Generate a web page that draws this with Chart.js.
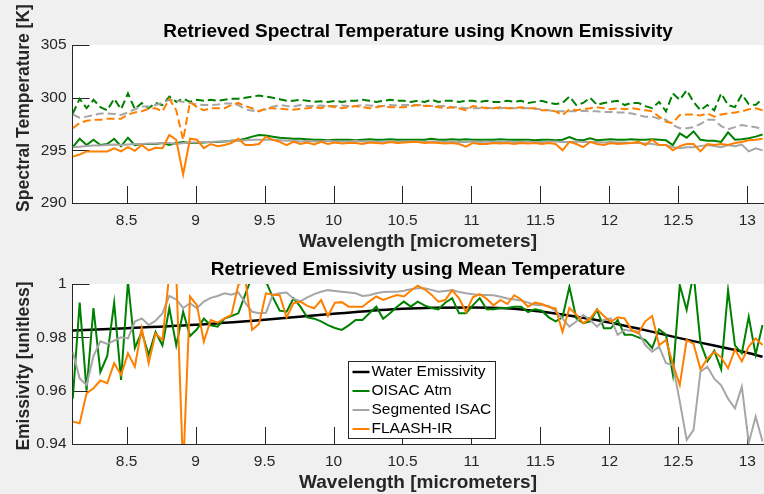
<!DOCTYPE html>
<html><head><meta charset="utf-8">
<script src="https://cdn.jsdelivr.net/npm/chart.js@4/dist/chart.umd.min.js"></script>
<style>
html,body{margin:0;padding:0;background:#f0f0f0;}
#wrap{position:relative;width:764px;height:494px;overflow:hidden;background:#f0f0f0;}
.box{position:absolute;left:0;width:764px;}
</style></head><body>
<div id="wrap">
<div class="box" style="top:0;height:255px"><canvas id="c1"></canvas></div>
<div class="box" style="top:255px;height:239px"><canvas id="c2"></canvas></div>
</div>
<script>
// ---------------- DATA ----------------
const wavelengths = [
8.11,8.16,8.21,8.26,8.31,8.36,8.41,8.46,8.51,8.56,
8.61,8.66,8.71,8.76,8.81,8.86,8.91,8.96,9.01,9.06,
9.11,9.16,9.21,9.26,9.31,9.36,9.41,9.46,9.51,9.56,
9.61,9.66,9.71,9.76,9.81,9.86,9.91,9.96,10.01,10.06,
10.11,10.16,10.21,10.26,10.31,10.36,10.41,10.46,10.51,10.56,
10.61,10.66,10.71,10.76,10.81,10.86,10.91,10.96,11.01,11.06,
11.11,11.16,11.21,11.26,11.31,11.36,11.41,11.46,11.51,11.56,
11.61,11.66,11.71,11.76,11.81,11.86,11.91,11.96,12.01,12.06,
12.11,12.16,12.21,12.26,12.31,12.36,12.41,12.46,12.51,12.56,
12.61,12.66,12.71,12.76,12.81,12.86,12.91,12.96,13.01,13.06,
13.11];

const xTicks = [8.5, 9, 9.5, 10, 10.5, 11, 11.5, 12, 12.5, 13];
const xTickLabels = ['8.5','9','9.5','10','10.5','11','11.5','12','12.5','13'];
const tempTicks = [290, 295, 300, 305];
const tempTickLabels = ['290','295','300','305'];
const emisTicks = [0.94, 0.96, 0.98, 1];
const emisTickLabels = ['0.94','0.96','0.98','1'];

// Top panel: retrieved spectral temperature [K]
const oisacTempSolid = [
295.3,296.1,295.5,296.0,295.5,295.6,296.1,295.4,296.2,295.5,
295.6,295.6,295.6,295.7,295.5,295.7,295.8,295.7,295.7,295.75,
295.8,295.8,295.85,295.9,295.95,296.1,296.3,296.45,296.4,296.3,
296.2,296.15,296.1,296.1,296.05,296.0,296.0,295.95,296.0,296.0,
296.0,295.95,296.0,296.05,296.0,296.0,296.05,296.0,296.0,296.0,
296.0,296.0,296.1,296.0,296.0,296.05,296.0,296.05,296.0,296.0,
296.0,296.0,296.05,296.0,296.0,296.0,296.0,295.95,296.0,296.0,
295.95,296.0,296.25,296.0,295.95,296.15,295.95,296.0,296.05,296.0,
296.0,296.05,296.0,296.0,296.05,296.0,295.95,295.5,296.6,296.2,
296.8,296.0,295.9,295.9,295.8,296.7,296.0,296.05,296.15,296.3,
296.5];
const segTempSolid = [
295.3,295.35,295.4,295.45,295.45,295.5,295.55,295.5,295.55,295.6,
295.6,295.65,295.65,295.7,295.7,295.6,295.7,295.75,295.75,295.8,
295.8,295.85,295.85,295.9,295.9,295.95,296.0,296.0,296.0,296.0,
295.95,295.9,295.9,295.85,295.9,295.85,295.85,295.9,295.85,295.85,
295.85,295.9,295.85,295.85,295.8,295.85,295.85,295.8,295.85,295.85,
295.85,295.8,295.85,295.85,295.8,295.85,295.8,295.8,295.85,295.8,
295.85,295.8,295.8,295.85,295.8,295.8,295.85,295.8,295.8,295.85,
295.85,295.8,295.8,295.85,295.8,295.8,295.8,295.75,295.8,295.75,
295.75,295.7,295.7,295.65,295.6,295.5,295.5,295.3,295.2,295.3,
295.3,295.4,295.5,295.4,295.3,295.5,295.4,295.55,294.9,295.2,
295.0];
const flaashTempSolid = [
294.4,294.6,294.9,294.9,294.9,294.9,295.2,294.9,295.3,294.95,
295.5,295.0,295.25,295.2,296.45,296.0,292.7,296.1,296.0,295.2,
295.6,295.4,295.5,295.7,296.1,295.5,295.5,295.6,296.3,296.0,
295.8,295.5,295.8,295.6,295.75,295.55,295.8,295.6,295.75,295.65,
295.7,295.7,295.6,295.75,295.7,295.65,295.8,295.7,295.75,295.8,
295.8,295.7,295.75,295.7,295.65,295.7,295.6,295.35,295.7,295.6,
295.6,295.7,295.65,295.7,295.6,295.7,295.65,295.7,295.6,295.7,
295.6,295.0,295.8,295.6,295.3,295.8,295.6,295.5,295.7,295.6,
295.65,295.7,295.8,295.5,296.0,295.5,295.5,295.0,295.4,295.6,
295.6,294.9,295.6,295.5,295.6,295.5,295.7,295.8,295.95,296.0,
296.1];
const oisacTempDashed = [
298.5,299.9,299.0,299.8,299.1,298.8,299.9,298.9,300.4,298.9,
299.5,299.0,299.5,299.3,300.1,299.6,299.9,299.6,299.8,299.7,
299.8,299.7,299.8,299.9,299.9,300.0,300.1,300.2,300.1,300.0,
299.85,299.7,299.7,299.8,299.7,299.6,299.65,299.6,299.7,299.6,
299.7,299.7,299.8,299.7,299.6,299.7,299.8,299.7,299.7,299.6,
299.7,299.6,299.8,299.6,299.7,299.7,299.6,299.7,299.7,299.6,
299.7,299.6,299.6,299.7,299.6,299.7,299.5,299.6,299.7,299.5,
299.4,299.5,300.1,299.3,299.5,300.0,299.3,299.5,299.6,299.7,
299.3,299.5,299.5,299.2,299.0,299.6,298.7,300.4,299.8,300.7,
299.6,298.8,299.3,298.8,300.4,299.3,299.1,300.3,299.4,299.3,
299.9];
const segTempDashed = [
298.4,298.1,298.2,298.35,298.5,298.5,298.45,298.35,298.6,298.9,
299.15,299.15,299.3,299.5,299.8,299.7,299.6,299.5,299.35,299.3,
299.3,299.35,299.45,299.45,299.3,298.9,298.75,298.75,298.9,299.15,
299.3,299.2,299.15,299.3,299.2,299.2,299.25,299.2,299.2,299.25,
299.2,299.2,299.3,299.25,299.2,299.2,299.3,299.25,299.3,299.3,
299.3,299.25,299.2,299.2,299.2,299.1,299.1,299.0,299.0,299.0,
299.05,299.0,299.0,299.05,299.0,299.0,299.0,298.95,298.9,298.8,
298.7,298.7,298.7,298.7,298.75,298.7,298.7,298.65,298.65,298.6,
298.6,298.5,298.35,298.2,298.2,298.0,297.9,297.4,297.1,297.1,
297.2,297.5,297.9,297.9,297.3,297.0,297.2,297.4,297.3,297.2,
297.0];
const flaashTempDashed = [
297.1,297.6,297.8,297.9,297.9,298.0,298.0,298.0,298.4,298.6,
298.7,298.95,299.0,298.7,299.9,298.8,296.0,299.6,299.1,298.8,
299.0,299.0,299.0,299.3,299.5,299.2,299.0,298.7,299.0,299.0,
298.95,298.9,298.85,298.95,299.0,299.1,299.0,299.2,299.1,299.0,
299.1,299.2,299.1,299.0,299.1,299.2,299.1,299.1,299.1,299.2,
299.3,299.2,299.2,299.1,299.0,299.1,299.0,298.8,299.2,299.1,
299.0,299.0,299.1,299.0,299.0,299.1,299.0,299.0,298.8,298.8,
298.7,298.35,298.9,298.8,298.9,299.0,299.1,299.0,298.9,299.0,
298.9,299.0,298.9,298.8,298.7,298.2,297.7,297.6,298.35,298.4,
298.4,298.3,298.5,298.2,298.4,298.5,298.6,298.7,298.9,299.0,
298.8];

// Bottom panel: retrieved emissivity [unitless]
const waterWavelengths = [8.11, 8.5, 9.0, 9.5, 10.0, 10.5, 11.0, 11.25, 11.5, 11.75, 12.0, 12.25, 12.5, 12.75, 13.0, 13.11];
const waterEmissivity = [0.9826, 0.9834, 0.9847, 0.9866, 0.9888, 0.9907, 0.9912, 0.9909, 0.9897, 0.9878, 0.9856, 0.9828, 0.9798, 0.9770, 0.9742, 0.9727];
const oisacEmis = [
0.957,0.993,0.960,0.991,0.967,0.973,0.993,0.964,1.001,0.976,
0.982,0.9735,0.982,0.977,0.991,0.977,0.9896,0.9805,0.983,0.987,
0.9845,0.984,0.987,0.988,0.989,0.996,1.003,1.004,1.001,0.995,
0.990,0.9896,0.9946,0.9915,0.9875,0.987,0.986,0.9846,0.9835,0.9828,
0.9845,0.9865,0.9865,0.989,0.9915,0.987,0.989,0.9915,0.9934,0.9915,
0.9934,0.992,0.991,0.9905,0.993,0.9947,0.989,0.989,0.992,0.9947,
0.9905,0.9905,0.991,0.991,0.9915,0.9915,0.9895,0.9905,0.990,0.9875,
0.986,0.9875,0.999,0.9871,0.9853,0.986,0.9903,0.9834,0.9834,0.9865,
0.981,0.981,0.980,0.979,0.976,0.983,0.981,0.966,0.9996,0.9903,
1.004,0.978,0.971,0.975,0.968,0.9977,0.977,0.974,0.9877,0.9735,
0.9846];
const segEmis = [
0.9746,0.9646,0.9621,0.9730,0.9785,0.9775,0.9788,0.9800,0.9796,0.9859,
0.9871,0.9846,0.9862,0.9890,0.9955,0.9942,0.9910,0.9928,0.9909,0.9934,
0.9948,0.9955,0.9965,0.9960,0.9968,0.9930,0.9896,0.9890,0.9892,0.9959,
0.9965,0.9968,0.9945,0.9935,0.9950,0.9962,0.9971,0.9977,0.9974,0.9971,
0.9968,0.9965,0.9955,0.9958,0.9965,0.9970,0.9971,0.9971,0.9975,0.9980,
0.9984,0.9984,0.9978,0.9971,0.9974,0.9977,0.9970,0.9965,0.9962,0.9959,
0.9959,0.9958,0.9952,0.9946,0.9942,0.9938,0.9930,0.9921,0.9921,0.9918,
0.9898,0.9870,0.9840,0.9859,0.9884,0.9865,0.9840,0.9865,0.9871,0.9809,
0.9828,0.9824,0.9821,0.9771,0.9746,0.9765,0.9703,0.9696,0.9560,0.9415,
0.9453,0.9671,0.9690,0.9645,0.9620,0.9570,0.9534,0.9615,0.9404,0.9503,
0.9409];
const flaashEmis = [
0.9484,0.9478,0.9590,0.9609,0.9638,0.9628,0.9703,0.9659,0.9740,0.9690,
0.9834,0.9703,0.9815,0.9790,1.004,1.004,0.930,0.9953,0.9921,0.9784,
0.9865,0.9855,0.9871,0.9884,0.9996,1.002,0.9828,0.9850,0.9965,0.9960,
0.9958,0.9875,0.9928,0.9934,0.9918,0.9909,0.9940,0.9880,0.9930,0.9932,
0.9915,0.9915,0.9915,0.9935,0.9953,0.9940,0.9950,0.9959,0.9953,0.9975,
0.9994,0.9980,0.9960,0.9934,0.9940,0.9977,0.9946,0.9895,0.9950,0.9962,
0.9945,0.9920,0.9940,0.9925,0.9958,0.9942,0.9915,0.9930,0.9925,0.9914,
0.9909,0.9820,0.9910,0.9885,0.9853,0.9870,0.9905,0.9880,0.9858,0.9875,
0.9871,0.9828,0.9815,0.9860,0.9880,0.9770,0.9790,0.9700,0.9621,0.9790,
0.9775,0.9680,0.9720,0.9746,0.9725,0.9684,0.9755,0.9710,0.9765,0.9796,
0.9771];

const xMin = 8.108, xMax = 13.117;

// ---------------- STYLE / HELPERS ----------------
const FONT = '"Liberation Sans", Arial, Helvetica, sans-serif';
const AXIS = '#262626';
const GREEN = 'rgb(0,128,0)';
const GRAY = 'rgb(166,166,166)';
const ORANGE = 'rgb(255,128,0)';
const pts = (xs, ys) => xs.map((w, i) => ({x: w, y: ys[i]}));

const bgPlugin = {
  id: 'bgPlugin',
  beforeDraw(chart) {
    const {ctx, chartArea: a} = chart;
    ctx.save();
    ctx.fillStyle = '#f0f0f0';
    ctx.fillRect(0, 0, chart.width, chart.height);
    ctx.fillStyle = '#ffffff';
    ctx.fillRect(a.left, a.top, a.right - a.left, a.bottom - a.top);
    ctx.restore();
  }
};
const inwardTicks = {
  id: 'inwardTicks',
  beforeDatasetsDraw(chart) {
    const {ctx, chartArea: a, scales} = chart;
    const L = 17;
    ctx.save();
    ctx.strokeStyle = AXIS; ctx.lineWidth = 1;
    ctx.beginPath();
    scales.x.ticks.forEach(t => {
      const px = Math.round(scales.x.getPixelForValue(t.value)) + 0.5;
      ctx.moveTo(px, a.bottom); ctx.lineTo(px, a.bottom - L);
    });
    scales.y.ticks.forEach(t => {
      const py = Math.round(scales.y.getPixelForValue(t.value)) + 0.5;
      ctx.moveTo(a.left, py); ctx.lineTo(a.left + L, py);
    });
    ctx.stroke();
    ctx.restore();
  }
};
// y-axis label drawn at a chosen vertical centre (offset from the plot-area centre)
const yLabel = {
  id: 'yLabel',
  afterDraw(chart, args, opts) {
    const {ctx, chartArea: a} = chart;
    ctx.save();
    ctx.translate(opts.x, (a.top + a.bottom) / 2 + opts.dy);
    ctx.rotate(-Math.PI / 2);
    ctx.font = 'bold 17.5px ' + FONT;
    ctx.fillStyle = AXIS;
    ctx.textAlign = 'center';
    ctx.textBaseline = 'middle';
    ctx.fillText(opts.text, 0, 0);
    ctx.restore();
  }
};
const boxLegend = {
  id: 'boxLegend',
  afterDraw(chart) {
    const {ctx, chartArea: a} = chart;
    const x0 = Math.round(a.left + 275) + 0.5, y0 = Math.round(a.top + 77) + 0.5, w = 147, h = 77;
    ctx.save();
    ctx.fillStyle = '#ffffff';
    ctx.fillRect(x0, y0, w, h);
    ctx.strokeStyle = AXIS; ctx.lineWidth = 1;
    ctx.strokeRect(x0, y0, w, h);
    ctx.font = '15.5px ' + FONT;
    ctx.textBaseline = 'middle';
    chart.data.datasets.forEach((ds, i) => {
      const cy = y0 + 10.5 + i * 19;
      ctx.strokeStyle = ds.borderColor; ctx.lineWidth = ds.borderWidth;
      ctx.beginPath(); ctx.moveTo(x0 + 4, cy); ctx.lineTo(x0 + 21, cy); ctx.stroke();
      ctx.fillStyle = '#000';
      ctx.fillText(ds.label, x0 + 23, cy);
    });
    ctx.restore();
  }
};

function xScale(h, pb) {
  return {
    type: 'linear', min: xMin, max: xMax,
    afterBuildTicks: s => { s.ticks = xTicks.map(v => ({value: v})); },
    afterFit: s => { s.height = h; },
    grid: {display: true, drawOnChartArea: false, drawTicks: false},
    border: {display: true, color: AXIS, width: 1},
    ticks: {padding: 8, color: AXIS, autoSkip: false, maxRotation: 0,
      font: {family: FONT, size: 15.5},
      callback: (v, i) => xTickLabels[i]},
    title: {display: true, text: 'Wavelength [micrometers]', color: AXIS,
      font: {family: FONT, size: 19, weight: 'bold'}, padding: {top: 0, bottom: pb}}
  };
}
function yScale(min, max, ticks, labels) {
  return {
    type: 'linear', min: min, max: max,
    afterBuildTicks: s => { s.ticks = ticks.map(v => ({value: v})); },
    afterFit: s => { s.width = 72.5; },
    grid: {display: true, drawOnChartArea: false, drawTicks: false},
    border: {display: true, color: AXIS, width: 1},
    ticks: {padding: 6, color: AXIS, autoSkip: false,
      font: {family: FONT, size: 15.5},
      callback: (v, i) => labels[i]},
    title: {display: false}
  };
}
function line(label, xs, ys, color, width, dash, order) {
  return {label, data: pts(xs, ys), borderColor: color, backgroundColor: color,
    borderWidth: width, borderDash: dash, pointRadius: 0, tension: 0, fill: false,
    clip: 0, order: order};
}

// ---------------- TOP CHART ----------------
new Chart(document.getElementById('c1'), {
  type: 'line',
  data: {datasets: [
    line('OISAC Atm', wavelengths, oisacTempSolid, GREEN, 2, [], 5),
    line('Segmented ISAC', wavelengths, segTempSolid, GRAY, 2, [], 4),
    line('FLAASH-IR', wavelengths, flaashTempSolid, ORANGE, 2, [], 0),
    line('OISAC Atm (dashed)', wavelengths, oisacTempDashed, GREEN, 2, [8, 4], 3),
    line('Segmented ISAC (dashed)', wavelengths, segTempDashed, GRAY, 2, [8, 4], 2),
    line('FLAASH-IR (dashed)', wavelengths, flaashTempDashed, ORANGE, 2, [8, 4], 1)
  ]},
  options: {
    responsive: true, maintainAspectRatio: false, animation: false,
    layout: {padding: {left: 0, right: 0.5, top: 0, bottom: 0}},
    scales: {
      x: xScale(52, 1.6),
      y: yScale(290, 305, tempTicks, tempTickLabels)
    },
    plugins: {
      legend: {display: false}, tooltip: {enabled: false},
      title: {display: true, fullSize: false, text: 'Retrieved Spectral Temperature using Known Emissivity',
        color: '#000', font: {family: FONT, size: 19, weight: 'bold'}, padding: {top: 20.6, bottom: 1.6}},
      yLabel: {text: 'Spectral Temperature [K]', x: 24.5, dy: -16}
    }
  },
  plugins: [bgPlugin, inwardTicks, yLabel]
});

// ---------------- BOTTOM CHART ----------------
new Chart(document.getElementById('c2'), {
  type: 'line',
  data: {datasets: [
    Object.assign(line('Water Emissivity', waterWavelengths, waterEmissivity, '#000000', 2.5, [], 3), {cubicInterpolationMode: 'monotone'}),
    line('OISAC Atm', wavelengths, oisacEmis, GREEN, 2, [], 2),
    line('Segmented ISAC', wavelengths, segEmis, GRAY, 2, [], 1),
    line('FLAASH-IR', wavelengths, flaashEmis, ORANGE, 2, [], 0)
  ]},
  options: {
    responsive: true, maintainAspectRatio: false, animation: false,
    layout: {padding: {left: 0, right: 0.5, top: 0, bottom: 0}},
    scales: {
      x: xScale(50, 0),
      y: yScale(0.94, 1, emisTicks, emisTickLabels)
    },
    plugins: {
      legend: {display: false}, tooltip: {enabled: false},
      title: {display: true, fullSize: false, text: 'Retrieved Emissivity using Mean Temperature',
        color: '#000', font: {family: FONT, size: 19, weight: 'bold'}, padding: {top: 3.6, bottom: 2.6}},
      yLabel: {text: 'Emissivity [unitless]', x: 24.5, dy: 2}
    }
  },
  plugins: [bgPlugin, inwardTicks, yLabel, boxLegend]
});
</script>
</body></html>
